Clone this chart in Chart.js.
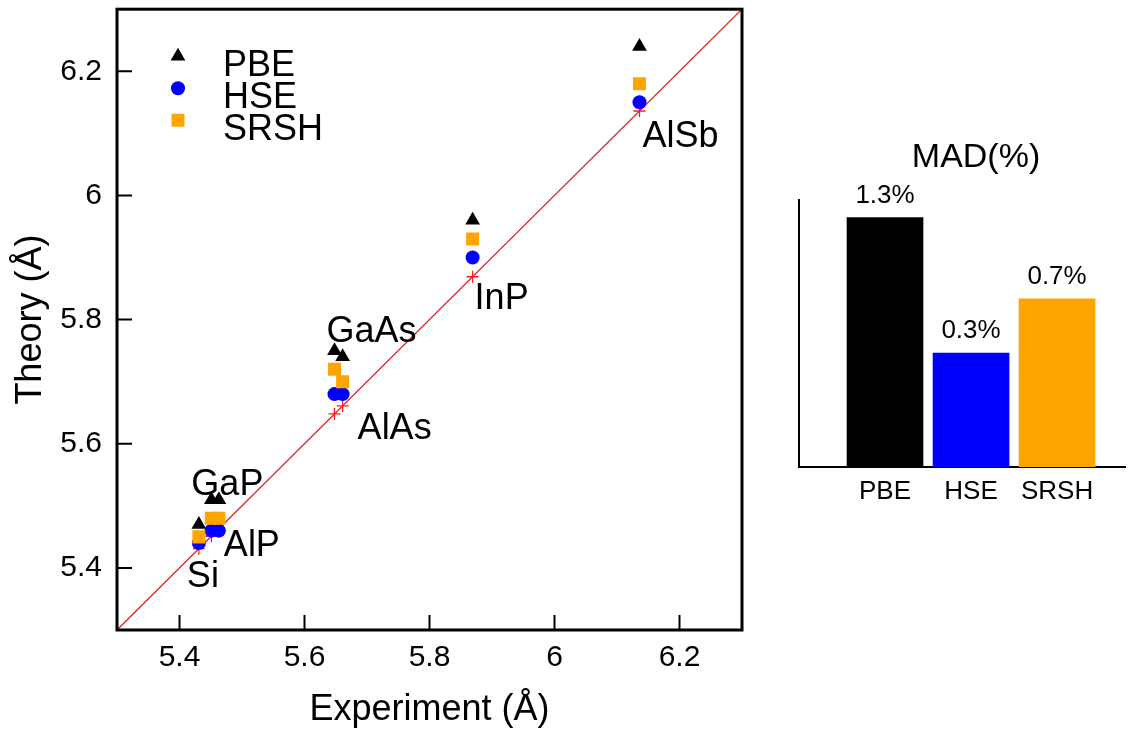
<!DOCTYPE html>
<html>
<head>
<meta charset="utf-8">
<script src="https://cdn.jsdelivr.net/npm/chart.js@4.4.0/dist/chart.umd.min.js"></script>
<style>
  html, body { margin: 0; padding: 0; background: #fff; }
  #wrap { position: relative; width: 1135px; height: 734px; overflow: hidden; }
  canvas { position: absolute; top: 0; }
  #lattice { left: 0; }
  #mad { left: 770px; }
</style>
</head>
<body>
<div id="wrap">
  <canvas id="lattice" width="770" height="734"></canvas>
  <canvas id="mad" width="365" height="734"></canvas>
</div>
<script>
// Lattice constants (Å)
const compounds  = ['Si', 'AlP', 'GaP', 'AlAs', 'GaAs', 'InP', 'AlSb'];
const experiment = [5.431, 5.463, 5.451, 5.661, 5.648, 5.869, 6.136];
const pbe        = [5.47, 5.51, 5.51, 5.74, 5.75, 5.96, 6.24];
const hse        = [5.44, 5.46, 5.46, 5.68, 5.68, 5.90, 6.15];
const srsh       = [5.45, 5.48, 5.48, 5.70, 5.72, 5.93, 6.18];
const axisTicks  = [5.4, 5.6, 5.8, 6, 6.2];
const axisRange  = [5.3, 6.3];

// Mean absolute deviation (%)
const methods = ['PBE', 'HSE', 'SRSH'];
const mad     = [1.3, 0.3, 0.7];

// Where each compound name sits relative to its experimental point (px)
const nameOffset = {
  Si: [4, 25], AlP: [33, 14], GaP: [16, -54], AlAs: [52, 20],
  GaAs: [37, -85], InP: [29, 19], AlSb: [41, 23]
};

const FONT = '"Liberation Sans", Arial, Helvetica, sans-serif';
const COLORS = { PBE: '#000000', HSE: '#0000ff', SRSH: '#ffa500', line: '#dc2424', cross: '#ff1a1a' };

const pts = (xs, ys) => xs.map((x, i) => ({ x, y: ys[i] }));
const noEdgePadding = s => { s.paddingTop = 0; s.paddingBottom = 0; s.paddingLeft = 0; s.paddingRight = 0; };

// Frame, inward ticks, key and compound names for the lattice plot
const latticeDecor = {
  id: 'latticeDecor',
  afterDatasetsDraw(chart) {
    const { ctx, chartArea: a, scales: { x, y } } = chart;
    ctx.save();
    // inward tick marks
    ctx.strokeStyle = '#000';
    ctx.lineWidth = 2;
    ctx.beginPath();
    axisTicks.forEach(v => {
      const px = x.getPixelForValue(v);
      ctx.moveTo(px, a.bottom); ctx.lineTo(px, a.bottom - 15);
      const py = y.getPixelForValue(v);
      ctx.moveTo(a.left, py); ctx.lineTo(a.left + 15, py);
    });
    ctx.stroke();
    // frame
    ctx.lineWidth = 3;
    ctx.strokeRect(a.left, a.top, a.right - a.left, a.bottom - a.top);

    // compound names
    ctx.fillStyle = '#000';
    ctx.font = '36px ' + FONT;
    ctx.textAlign = 'center';
    ctx.textBaseline = 'alphabetic';
    compounds.forEach((name, i) => {
      const px = x.getPixelForValue(experiment[i]);
      const py = y.getPixelForValue(experiment[i]);
      const [dx, dy] = nameOffset[name];
      ctx.fillText(name, px + dx, py + dy + 13);
    });

    // key: PBE, HSE, SRSH
    const keyX = a.left + 61, textX = a.left + 106;
    methods.forEach((m, k) => {
      const d = chart.data.datasets.find(ds => ds.label === m);
      const cy = a.top + 54 + k * 32;
      ctx.fillStyle = d.backgroundColor;
      ctx.strokeStyle = d.backgroundColor;
      Chart.helpers.drawPoint(ctx, { pointStyle: d.pointStyle, radius: d.pointRadius, rotation: 0, borderWidth: 0 }, keyX, cy - 7);
      ctx.fillStyle = '#000';
      ctx.textAlign = 'left';
      ctx.fillText(d.label, textX, cy + 13);
    });
    ctx.restore();
  }
};

new Chart(document.getElementById('lattice'), {
  type: 'scatter',
  data: {
    datasets: [
      { label: 'SRSH', data: pts(experiment, srsh), pointStyle: 'rect', pointRadius: 9.2,
        backgroundColor: COLORS.SRSH, borderWidth: 0, order: 0 },
      { label: 'HSE', data: pts(experiment, hse), pointStyle: 'circle', pointRadius: 7,
        backgroundColor: COLORS.HSE, borderWidth: 0, order: 1 },
      { label: 'PBE', data: pts(experiment, pbe), pointStyle: 'triangle', pointRadius: 8.5,
        backgroundColor: COLORS.PBE, borderWidth: 0, order: 2 },
      { label: 'Experiment', data: pts(experiment, experiment), pointStyle: 'cross', pointRadius: 6,
        borderColor: COLORS.cross, backgroundColor: COLORS.cross, borderWidth: 1.3, order: 3 },
      { label: 'y = x', data: pts(axisRange, axisRange), showLine: true, pointRadius: 0,
        borderColor: COLORS.line, borderWidth: 1.3, order: 4 }
    ]
  },
  options: {
    responsive: false,
    animation: false,
    events: [],
    layout: { padding: { left: 0, top: 6, right: 28, bottom: 0 } },
    plugins: { legend: { display: false }, tooltip: { enabled: false } },
    scales: {
      x: {
        type: 'linear', min: axisRange[0], max: axisRange[1], offset: false,
        afterBuildTicks: s => { s.ticks = axisTicks.map(v => ({ value: v })); },
        afterFit: s => { s.height = 104; noEdgePadding(s); },
        grid: { display: false, drawTicks: false, offset: false },
        border: { display: false },
        ticks: { color: '#000', font: { family: FONT, size: 30 }, padding: 10, maxRotation: 0,
                 callback: v => String(v) },
        title: { display: true, text: 'Experiment (Å)', color: '#000',
                 font: { family: FONT, size: 36 }, padding: { top: 0, bottom: 2 } }
      },
      y: {
        type: 'linear', min: axisRange[0], max: axisRange[1], offset: false,
        afterBuildTicks: s => { s.ticks = axisTicks.map(v => ({ value: v })); },
        afterFit: s => { s.width = 117; noEdgePadding(s); },
        grid: { display: false, drawTicks: false },
        border: { display: false },
        ticks: { color: '#000', font: { family: FONT, size: 30 }, padding: 15,
                 callback: v => String(v) },
        title: { display: true, text: 'Theory (Å)', color: '#000',
                 font: { family: FONT, size: 36 }, padding: { top: 9, bottom: 0 } }
      }
    }
  },
  plugins: [latticeDecor]
});

// Value labels and heading for the MAD bars
const madDecor = {
  id: 'madDecor',
  afterDatasetsDraw(chart) {
    const { ctx, scales: { x } } = chart;
    ctx.save();
    ctx.fillStyle = '#000';
    ctx.textAlign = 'center';
    ctx.textBaseline = 'alphabetic';
    ctx.font = '26px ' + FONT;
    chart.getDatasetMeta(0).data.forEach((bar, i) => {
      ctx.fillText(mad[i].toFixed(1) + '%', bar.x, bar.y - 15);
    });
    ctx.font = '34px ' + FONT;
    ctx.fillText('MAD(%)', x.getPixelForValue(1) + 5, 167);
    ctx.restore();
  }
};

const madMin = -0.54;
new Chart(document.getElementById('mad'), {
  type: 'bar',
  data: {
    datasets: [{
      data: mad.map((v, i) => ({ x: i, y: v })),
      backgroundColor: methods.map(m => COLORS[m]),
      borderWidth: 0,
      barThickness: 76,
      base: madMin
    }]
  },
  options: {
    responsive: false,
    animation: false,
    events: [],
    layout: { padding: { left: 0, top: 200, right: 10, bottom: 0 } },
    plugins: { legend: { display: false }, tooltip: { enabled: false } },
    scales: {
      x: {
        type: 'linear', min: -1, max: 2.79, offset: false,
        afterBuildTicks: s => { s.ticks = methods.map((m, i) => ({ value: i })); },
        afterFit: s => { s.height = 267; noEdgePadding(s); },
        grid: { display: false, drawTicks: false, offset: false },
        border: { display: true, color: '#000', width: 2 },
        ticks: { color: '#000', font: { family: FONT, size: 26 }, padding: 9, maxRotation: 0,
                 callback: v => methods[v] }
      },
      y: {
        type: 'linear', min: madMin, max: 1.43,
        afterFit: s => { s.width = 29; noEdgePadding(s); },
        grid: { display: false, drawTicks: false },
        border: { display: true, color: '#000', width: 2 },
        ticks: { display: false }
      }
    }
  },
  plugins: [madDecor]
});
</script>
</body>
</html>
